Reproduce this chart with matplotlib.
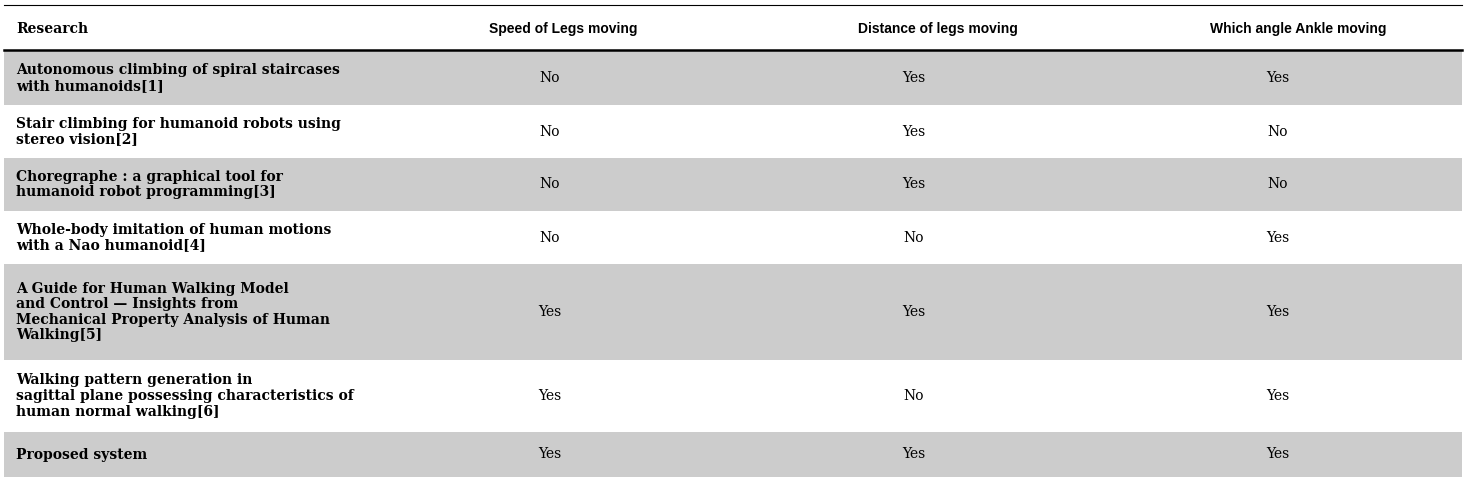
import matplotlib.pyplot as plt
from matplotlib.patches import Rectangle

headers = ["Research", "Speed of Legs moving", "Distance of legs moving", "Which angle Ankle moving"]
research = [
    "Autonomous climbing of spiral staircases\nwith humanoids[1]",
    "Stair climbing for humanoid robots using\nstereo vision[2]",
    "Choregraphe : a graphical tool for\nhumanoid robot programming[3]",
    "Whole-body imitation of human motions\nwith a Nao humanoid[4]",
    "A Guide for Human Walking Model\nand Control \u2014 Insights from\nMechanical Property Analysis of Human\nWalking[5]",
    "Walking pattern generation in\nsagittal plane possessing characteristics of\nhuman normal walking[6]",
    "Proposed system",
]
speed = ["No", "No", "No", "No", "Yes", "Yes", "Yes"]
distance = ["Yes", "Yes", "Yes", "No", "Yes", "No", "Yes"]
ankle = ["Yes", "No", "No", "Yes", "Yes", "Yes", "Yes"]

# layout (pixels)
W, H = 1466, 478
row_edges = [51, 105, 158, 211, 264, 360, 432, 477]
col_x = [550, 914, 1278]
head_x = [563, 938, 1298]

fig = plt.figure(figsize=(W / 100, H / 100), dpi=100)
ax = fig.add_axes([0, 0, 1, 1])
ax.set_xlim(0, W)
ax.set_ylim(H, 0)
ax.axis("off")

serif = "DejaVu Serif"
ax.plot([4, 1462], [5, 5], color="black", lw=0.8)
ax.plot([4, 1462], [50, 50], color="black", lw=1.8)
ax.text(16, 29, headers[0], fontsize=10, fontweight="bold", family=serif, va="center")
for x, h in zip(head_x, headers[1:]):
    ax.text(x, 29, h, fontsize=10, fontweight="bold", family="Liberation Sans", va="center", ha="center")

for i, name in enumerate(research):
    y0, y1 = row_edges[i], row_edges[i + 1]
    if i % 2 == 0:
        ax.add_patch(Rectangle((4, y0), 1458, y1 - y0, color="#cccccc", lw=0))
    yc = (y0 + y1) / 2
    ax.text(16, yc, name, fontsize=10, fontweight="bold", family=serif, va="center", linespacing=1.15)
    for x, v in zip(col_x, [speed[i], distance[i], ankle[i]]):
        ax.text(x, yc, v, fontsize=10, family=serif, va="center", ha="center")

fig.savefig("out.png", dpi=100)
